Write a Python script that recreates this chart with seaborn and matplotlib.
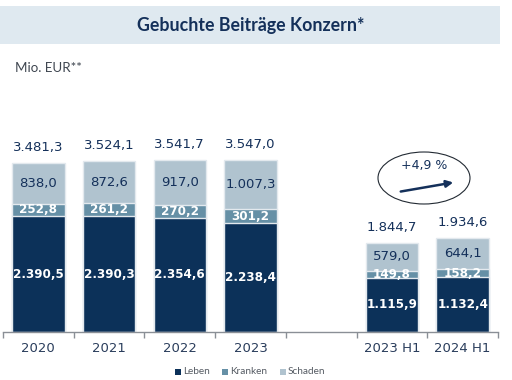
import matplotlib
matplotlib.use("Agg")
import matplotlib.pyplot as plt
import seaborn as sns
import pandas as pd
import numpy as np
from matplotlib.patches import Rectangle, Ellipse

categories = ["2020", "2021", "2022", "2023", "2023 H1", "2024 H1"]
order = ["2020", "2021", "2022", "2023", "", "2023 H1", "2024 H1"]
leben = [2390.5, 2390.3, 2354.6, 2238.4, 1115.9, 1132.4]
kranken = [252.8, 261.2, 270.2, 301.2, 149.8, 158.2]
schaden = [838.0, 872.6, 917.0, 1007.3, 579.0, 644.1]
totals = [3481.3, 3524.1, 3541.7, 3547.0, 1844.7, 1934.6]
growth_label = "+4,9 %"

def de(v):
    s = f"{v:,.1f}"
    return s.replace(",", "X").replace(".", ",").replace("X", ".")

c_leben = "#0c3159"
c_kranken = "#6690a6"
c_schaden = "#b0c3cf"
navy = "#14305a"

sns.set_theme(style="white")
plt.rcParams["font.family"] = ["DejaVu Sans"]

df = pd.DataFrame({"cat": categories, "leben": leben, "kranken": kranken, "schaden": schaden})
df["cum2"] = df["leben"] + df["kranken"]
df["cum3"] = df["cum2"] + df["schaden"]

fig = plt.figure(figsize=(5.12, 3.80), dpi=100)
ax = fig.add_axes([3/512, 48/380, 495/512, 332/380])

W = 0.74
for col, color in [("cum3", c_schaden), ("cum2", c_kranken), ("leben", c_leben)]:
    sns.barplot(data=df, x="cat", y=col, order=order, color=color, width=W,
                edgecolor="#e3e9ee", linewidth=1.0, saturation=1, ax=ax)

ax.set_xlim(-0.5, 6.5)
ax.set_ylim(0, 6845)
ax.set_xlabel("")
ax.set_ylabel("")
ax.set_yticks([])
for s in ["top", "right", "left"]:
    ax.spines[s].set_visible(False)
ax.spines["bottom"].set_color("#8a8f96")
ax.spines["bottom"].set_linewidth(1.0)
ax.set_xticks(range(len(order)))
ax.set_xticklabels(order, fontsize=9.5, color="#2a3d5c")
ax.set_xticks(np.arange(-0.5, 7.0, 1.0), minor=True)
ax.tick_params(axis="x", which="major", length=0, pad=7)
ax.tick_params(axis="x", which="minor", length=4, width=1.0, color="#8a8f96", direction="out", bottom=True)

pos = {c: i for i, c in enumerate(order)}
for i, c in enumerate(categories):
    x = pos[c]
    l, k, s, t = leben[i], kranken[i], schaden[i], totals[i]
    ax.text(x, l / 2, de(l), ha="center", va="center", color="white", fontsize=9.5,
            fontweight="bold", family="DejaVu Sans", fontstretch="condensed")
    ax.text(x, l + k / 2, de(k), ha="center", va="center", color="white", fontsize=9.5,
            fontweight="bold", family="DejaVu Sans", fontstretch="condensed")
    ax.text(x, l + k + s / 2, de(s), ha="center", va="center", color=navy, fontsize=9.5)
    ax.annotate(de(t), (x, l + k + s), xytext=(0, 11), textcoords="offset points",
                ha="center", va="center", color=navy, fontsize=9.5)

# title band
fig.patches.append(Rectangle((0, 1 - 44/380), 500/512, 38/380, transform=fig.transFigure,
                             facecolor="#dfe9f0", edgecolor="none", zorder=0))
fig.text(251/512, 1 - 25/380, "Gebuchte Beiträge Konzern*", ha="center", va="center",
         fontsize=12.8, fontweight="bold", color=navy, family=["Lato", "DejaVu Sans"])
fig.text(15/512, 1 - 68/380, "Mio. EUR**", ha="left", va="center", fontsize=9.6,
         color="#3f4650", family=["Lato", "DejaVu Sans"])

# growth ellipse and arrow
fig.patches.append(Ellipse((424/512, 1 - 178/380), 92/512, 52/380, transform=fig.transFigure,
                           facecolor="none", edgecolor="#222a33", linewidth=0.8))
fig.text(424/512, 1 - 166/380, growth_label, ha="center", va="center", fontsize=9, color=navy)
ax.annotate("", xy=(456/512, 1 - 182/380), xytext=(398/512, 1 - 192/380),
            xycoords="figure fraction", textcoords="figure fraction",
            arrowprops=dict(arrowstyle="-|>", color=navy, lw=1.8, mutation_scale=10))

# legend
ly = 1 - 372/380
for mx, lab, col in [(175, "Leben", c_leben), (222, "Kranken", c_kranken), (280, "Schaden", c_schaden)]:
    fig.patches.append(Rectangle((mx/512, ly - 3/380), 6/512, 6/380, transform=fig.transFigure,
                                 facecolor=col, edgecolor="none"))
    fig.text((mx + 8)/512, ly, lab, ha="left", va="center", fontsize=7.2, color="#555b63",
             family=["Lato", "DejaVu Sans"])

fig.savefig("out.png", dpi=100)
